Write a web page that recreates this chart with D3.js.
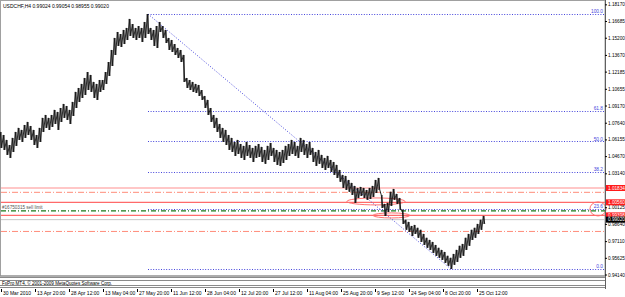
<!DOCTYPE html>
<html>
<head>
<meta charset="utf-8">
<script src="https://cdn.jsdelivr.net/npm/d3@7/dist/d3.min.js"></script>
<style>
  body { margin: 0; background: #fff; }
  svg { display: block; font-family: "Liberation Sans", Arial, sans-serif; }
</style>
</head>
<body>
<svg id="chart" width="625" height="297"></svg>
<script>
// USDCHF H4 bars, grouped roughly one per trading day (high / low)
var highs = [1.0682,1.0655,1.0611,1.0566,1.0629,1.0682,1.0718,1.0700,1.0744,1.0771,
  1.0735,1.0700,1.0655,1.0718,1.0807,1.0833,1.0807,1.0833,1.0878,1.0860,
  1.0895,1.0931,1.0913,1.0878,1.0949,1.1038,1.1073,1.1109,1.1162,1.1215,
  1.1189,1.1127,1.1109,1.1144,1.1144,1.1215,1.1304,1.1411,1.1518,1.1571,
  1.1553,1.1589,1.1607,1.1687,1.1642,1.1607,1.1624,1.1607,1.1660,1.1731,
  1.1607,1.1589,1.1624,1.1660,1.1624,1.1589,1.1518,1.1500,1.1464,1.1429,
  1.1411,1.1367,1.1162,1.1144,1.1127,1.1109,1.1100,1.1055,1.1002,1.0967,
  1.0895,1.0833,1.0807,1.0753,1.0718,1.0700,1.0655,1.0629,1.0593,1.0611,
  1.0575,1.0558,1.0593,1.0566,1.0540,1.0558,1.0575,1.0549,1.0522,1.0558,
  1.0584,1.0540,1.0522,1.0504,1.0522,1.0558,1.0575,1.0611,1.0593,1.0558,
  1.0629,1.0611,1.0575,1.0593,1.0540,1.0504,1.0522,1.0478,1.0451,1.0469,
  1.0433,1.0415,1.0389,1.0344,1.0300,1.0291,1.0255,1.0229,1.0202,1.0184,
  1.0193,1.0184,1.0166,1.0184,1.0202,1.0255,1.0273,1.0122,1.0042,1.0051,
  1.0149,1.0175,1.0131,1.0095,0.9989,0.9900,0.9882,0.9846,0.9855,0.9829,
  0.9811,0.9775,0.9740,0.9722,0.9704,0.9677,0.9651,0.9633,0.9615,0.9580,
  0.9562,0.9597,0.9633,0.9669,0.9686,0.9740,0.9775,0.9811,0.9829,0.9864,
  0.9900,0.9935];
var lows = [1.0540,1.0522,1.0478,1.0451,1.0504,1.0558,1.0611,1.0593,1.0629,1.0655,
  1.0611,1.0566,1.0540,1.0593,1.0682,1.0718,1.0700,1.0727,1.0753,1.0700,
  1.0771,1.0807,1.0789,1.0753,1.0824,1.0895,1.0949,1.0984,1.1011,1.1055,
  1.1038,1.0984,1.0967,1.1038,1.1055,1.1109,1.1180,1.1269,1.1367,1.1447,
  1.1438,1.1464,1.1500,1.1536,1.1518,1.1500,1.1518,1.1482,1.1518,1.1553,
  1.1500,1.1447,1.1429,1.1571,1.1518,1.1473,1.1411,1.1393,1.1367,1.1340,
  1.1304,1.1127,1.1073,1.1055,1.1038,1.1029,1.1002,1.0967,1.0895,1.0833,
  1.0771,1.0718,1.0682,1.0629,1.0593,1.0566,1.0522,1.0504,1.0469,1.0486,
  1.0451,1.0433,1.0469,1.0451,1.0415,1.0451,1.0460,1.0415,1.0398,1.0433,
  1.0469,1.0415,1.0389,1.0380,1.0406,1.0433,1.0469,1.0486,1.0469,1.0451,
  1.0504,1.0478,1.0451,1.0478,1.0415,1.0380,1.0398,1.0362,1.0344,1.0362,
  1.0326,1.0300,1.0273,1.0238,1.0184,1.0166,1.0149,1.0122,1.0051,1.0095,
  1.0113,1.0095,1.0078,1.0086,1.0104,1.0140,1.0166,1.0006,0.9935,0.9971,
  1.0024,1.0078,1.0042,0.9989,0.9864,0.9811,0.9793,0.9757,0.9775,0.9740,
  0.9704,0.9677,0.9651,0.9633,0.9606,0.9580,0.9562,0.9544,0.9517,0.9491,
  0.9464,0.9500,0.9526,0.9562,0.9580,0.9633,0.9669,0.9722,0.9740,0.9775,
  0.9811,0.9864];

// price scale labels (the one under the 1.01834 tag is hidden in the picture)
var priceTicks = [1.18170,1.16685,1.15200,1.13670,1.12185,1.10655,1.09170,1.07640,
  1.06155,1.04670,1.03140,1.00125,0.98640,0.97110,0.95625,0.94140];
var timeLabels = ["30 Mar 2010","13 Apr 20:00","28 Apr 12:00","13 May 04:00","27 May 20:00",
  "11 Jun 12:00","28 Jun 04:00","12 Jul 20:00","27 Jul 12:00","11 Aug 04:00",
  "25 Aug 20:00","9 Sep 12:00","24 Sep 04:00","8 Oct 20:00","25 Oct 12:00"];

// fibonacci retracement drawn from the June high to the October low
var fibHigh = 1.1731, fibLow = 0.9463;
var fibHighBar = 49, fibLowBar = 150;
var fibLevels = [0.0, 23.6, 38.2, 50.0, 61.8, 100.0];

// horizontal objects
var hLevels = [1.01834, 1.0145, 1.00560, 0.9980, 0.99398, 0.99020, 0.9797];
var hColors = ["#ffb4b4", "#ff8c7a", "#ff6a6a", "#1a7a1a", "#ff6a6a", "#c8c8c8", "#ff8c7a"];
var hDashes = [null, "6,2,1,2", null, "5,2,1,2", null, null, "6,2,1,2"];
var hWidths = [1.5, 1, 1.2, 1.3, 1.2, 1, 1];

// labels on the price scale for open orders and the bid
var tagPrices = [1.01834, 1.00560, 0.99398, 0.99020];
var tagColors = ["#ff1a1a", "#ff1a1a", "#ff1a1a", "#000000"];

// ellipses: bar range and price range
var ellBars = [[115.3, 134.7], [124, 136.3], [196.3, 201.7]];
var ellPrices = [[1.0095, 1.0033], [0.9962, 0.9917], [1.0060, 0.9935]];

var title = "USDCHF,H4  0.99024 0.99054 0.98955 0.99020";
var copyright = "FxPro MT4, \u00a9 2001-2009 MetaQuotes Software Corp.";
var orderText = "#16750315 sell limit";

var svg = d3.select("#chart");
var plotRight = 605, plotBottom = 276;

var y = d3.scaleLinear().domain([fibLow, fibHigh]).range([269, 14]);
var x = d3.scaleLinear().domain([0, highs.length - 1]).range([1, 484]);
var xt = d3.scaleLinear().domain([0, timeLabels.length - 1]).range([1, 477]);

svg.append("rect").attr("width", 625).attr("height", 297).attr("fill", "#fff");

// frame of the main window
svg.append("rect")
  .attr("x", 0.5).attr("y", 0.5)
  .attr("width", plotRight - 0.5).attr("height", plotBottom - 0.5)
  .attr("fill", "none").attr("stroke", "#a0a0a0");

// horizontal order / alert lines
var hl = svg.append("g");
hLevels.forEach(function(p, i) {
  hl.append("line")
    .attr("x1", 1).attr("x2", plotRight)
    .attr("y1", y(p)).attr("y2", y(p))
    .attr("stroke", hColors[i])
    .attr("stroke-width", hWidths[i])
    .attr("stroke-dasharray", hDashes[i]);
});

// fibo levels
var fib = svg.append("g");
var fibColor = "#4646dc";
fibLevels.forEach(function(l) {
  var p = fibLow + (fibHigh - fibLow) * l / 100;
  fib.append("line")
    .attr("x1", x(fibHighBar)).attr("x2", plotRight - 1)
    .attr("y1", Math.round(y(p)) + 0.5).attr("y2", Math.round(y(p)) + 0.5)
    .attr("stroke", fibColor).attr("stroke-width", 1)
    .attr("stroke-dasharray", "1,1.6");
  fib.append("text")
    .attr("x", plotRight - 2).attr("y", y(p) - 1)
    .attr("text-anchor", "end")
    .attr("font-size", 4.8).attr("fill", fibColor)
    .text(l.toFixed(1));
});
fib.append("line")
  .attr("x1", x(fibHighBar)).attr("y1", y(fibHigh))
  .attr("x2", x(fibLowBar)).attr("y2", y(fibLow))
  .attr("stroke", fibColor).attr("stroke-width", 1)
  .attr("stroke-dasharray", "1,1.8");

// ellipses
ellBars.forEach(function(b, i) {
  var x0 = x(b[0]), x1 = x(b[1]);
  var y0 = y(ellPrices[i][0]), y1 = y(ellPrices[i][1]);
  svg.append("ellipse")
    .attr("cx", (x0 + x1) / 2).attr("cy", (y0 + y1) / 2)
    .attr("rx", (x1 - x0) / 2).attr("ry", (y1 - y0) / 2)
    .attr("fill", "none").attr("stroke", "#ff7070").attr("stroke-width", 1);
});

// price bars: a thin bar per group plus a zigzag through highs and lows
var bars = svg.append("g");
bars.selectAll("line")
  .data(highs)
  .enter().append("line")
  .attr("x1", function(d, i) { return x(i); })
  .attr("x2", function(d, i) { return x(i); })
  .attr("y1", function(d) { return y(d); })
  .attr("y2", function(d, i) { return y(lows[i]); })
  .attr("stroke", "#111")
  .attr("stroke-width", 1.1);

var zig = [];
highs.forEach(function(h, i) {
  zig.push([i - 0.25, h]);
  zig.push([i + 0.25, lows[i]]);
});
bars.append("path")
  .attr("d", d3.line().x(function(d) { return x(d[0]); }).y(function(d) { return y(d[1]); })(zig))
  .attr("fill", "none").attr("stroke", "#111").attr("stroke-width", 0.9);

// texts inside the chart
svg.append("text").attr("x", 3).attr("y", 7.5)
  .attr("font-size", 5).attr("fill", "#000").text(title);
svg.append("text").attr("x", 2).attr("y", y(0.9980) - 1.5)
  .attr("font-size", 4.6).attr("fill", "#555").text(orderText);

// price scale
var axisY = svg.append("g")
  .attr("transform", "translate(" + plotRight + ",0)")
  .call(d3.axisRight(y).tickValues(priceTicks).tickSize(2).tickPadding(1)
    .tickFormat(d3.format(".5f")));
axisY.select(".domain").attr("d", "M0.5,0V289").attr("stroke", "#606060");
axisY.selectAll("text").attr("font-size", 4.7).attr("font-family", "Liberation Sans, Arial, sans-serif");

// coloured price tags
tagPrices.forEach(function(p, i) {
  svg.append("rect")
    .attr("x", plotRight + 1).attr("y", y(p) - 3)
    .attr("width", 20).attr("height", 6)
    .attr("fill", tagColors[i]);
  svg.append("text")
    .attr("x", plotRight + 3).attr("y", y(p) + 1.7)
    .attr("font-size", 4.7).attr("fill", "#fff")
    .text(p.toFixed(5));
});

// bottom panels
var sep = svg.append("g").attr("stroke", "#8a8a8a");
[276, 277.5, 280.5, 285.5, 287.5].forEach(function(v) {
  sep.append("line").attr("x1", 0).attr("x2", plotRight).attr("y1", v).attr("y2", v);
});
svg.append("text").attr("x", 2).attr("y", 284.5)
  .attr("font-size", 4.6).attr("fill", "#000").text(copyright);

// time scale
var axisX = svg.append("g")
  .attr("transform", "translate(0,289)")
  .call(d3.axisBottom(xt).tickValues(d3.range(timeLabels.length)).tickSize(3)
    .tickFormat(function(i) { return timeLabels[i]; }));
axisX.select(".domain").remove();
axisX.selectAll("text")
  .attr("text-anchor", "start").attr("dx", 1.5).attr("dy", 0).attr("y", 6)
  .attr("font-size", 5).attr("font-family", "Liberation Sans, Arial, sans-serif");
</script>
</body>
</html>
